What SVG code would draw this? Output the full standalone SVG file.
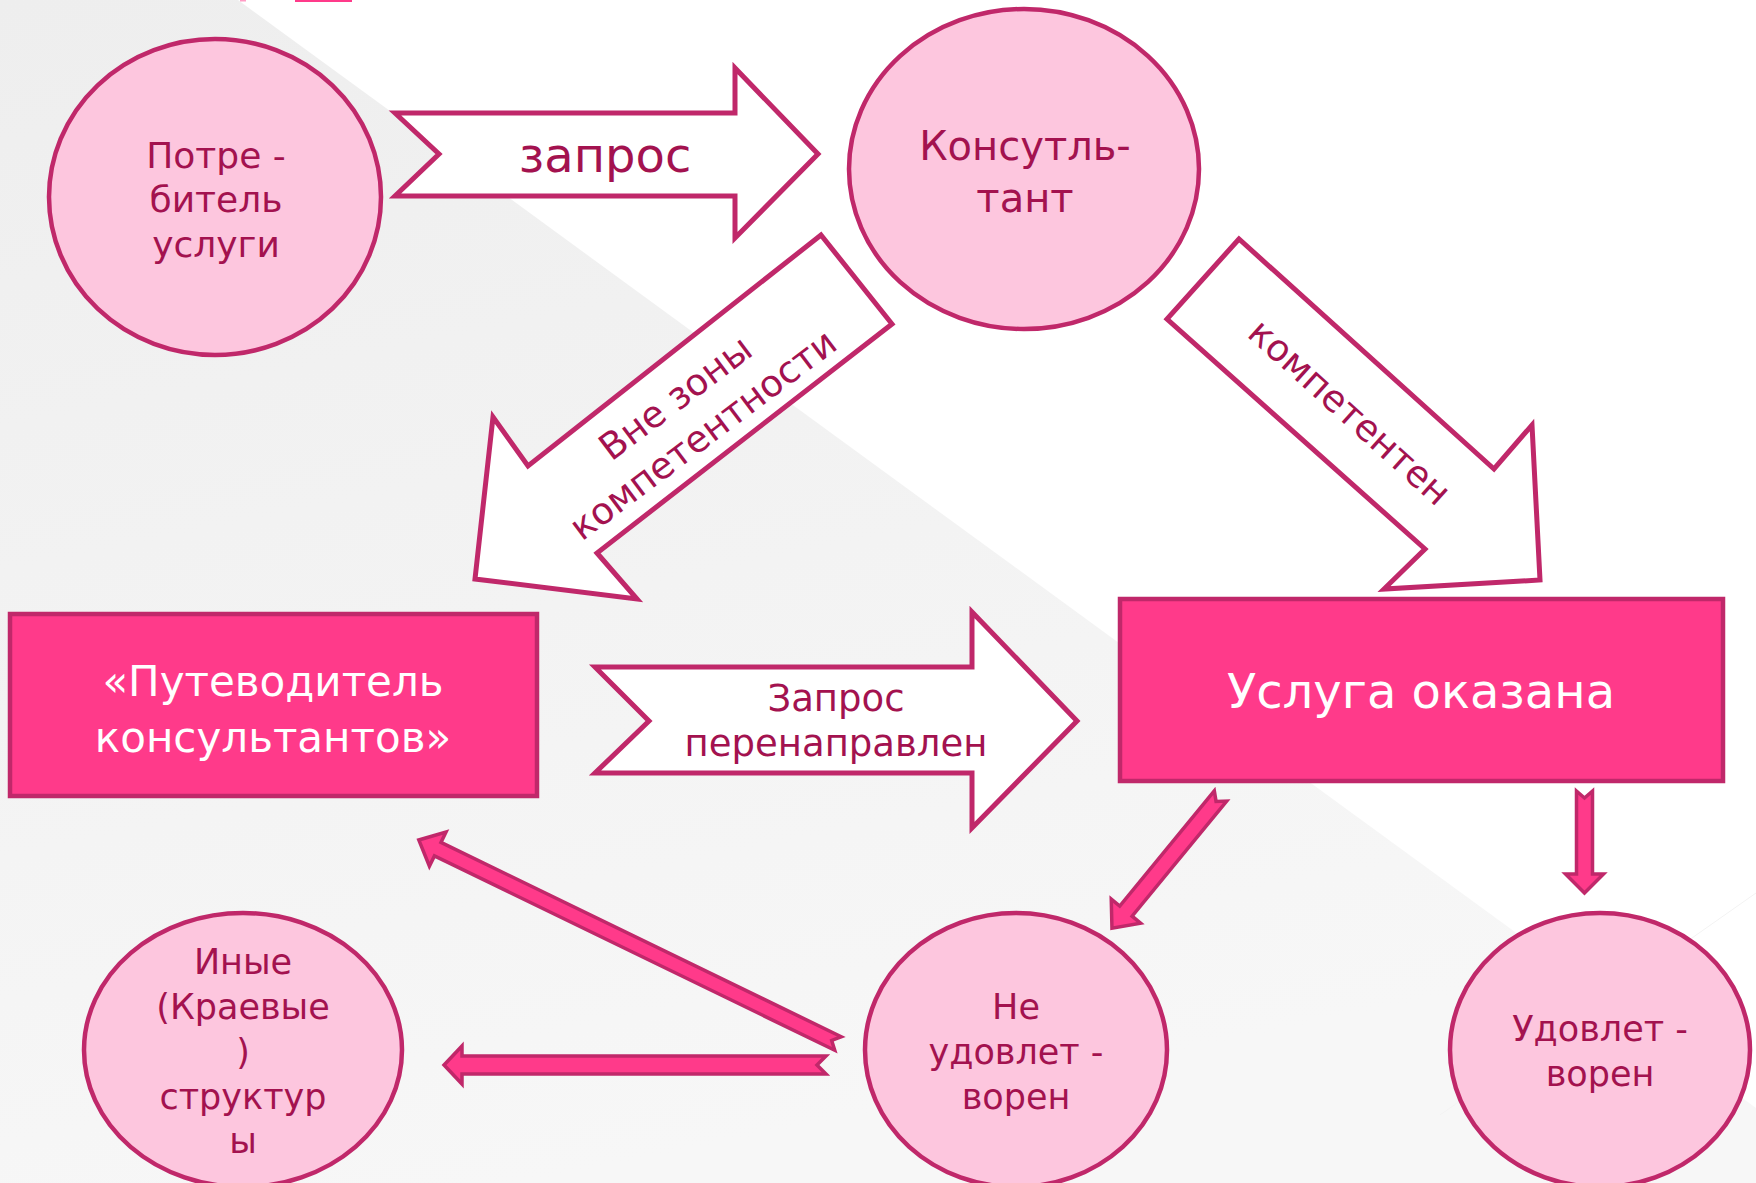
<svg xmlns="http://www.w3.org/2000/svg" width="1756" height="1183" viewBox="0 0 1756 1183">
<defs>
<linearGradient id="bg" x1="0" y1="0" x2="0.3" y2="1">
<stop offset="0" stop-color="#eeeeee"/>
<stop offset="1" stop-color="#f7f7f7"/>
</linearGradient>
<style>
.circ{fill:#fdc6de;stroke:#c0286a;stroke-width:4.5}
.box{fill:#ff3a8a;stroke:#c0286a;stroke-width:4.5}
.big{fill:#ffffff;stroke:#c0286a;stroke-width:5;stroke-linejoin:miter}
.thin{fill:#ff3a8a;stroke:#c0286a;stroke-width:3.5;stroke-linejoin:miter}
.t{font-family:"DejaVu Sans","Liberation Sans",sans-serif;fill:#a3124f;text-anchor:middle}
.w{font-family:"DejaVu Sans","Liberation Sans",sans-serif;fill:#ffffff;text-anchor:middle}
</style>
</defs>
<rect x="0" y="0" width="1756" height="1183" fill="#ffffff"/>
<polygon points="0,0 238,0 1756,1108 1756,1183 0,1183" fill="url(#bg)"/>
<line x1="1756" y1="893" x2="1440" y2="1115" stroke="#f3f3f3" stroke-width="1"/>
<rect x="295" y="0" width="57" height="2" fill="#ff3a8a"/>
<rect x="240" y="0" width="6" height="1.5" fill="#ff9cc4"/>

<g id="connectors">
<g id="arrow-zapros">
<polygon class="big" points="395,113 735,113 735,68 818,154 735,238 735,196 395,196 439,154"/>
<text class="t" x="605" y="172" font-size="48">запрос</text>
</g>
<g id="arrow-vne">
<polygon class="big" points="821,235 892,324 597,553 637,599 475,579 493,417 528,466"/>
<g transform="translate(689,416) rotate(-37)">
<text class="t" x="0" y="-10" font-size="37">Вне зоны</text>
<text class="t" x="0" y="36" font-size="37">компетентности</text>
</g>
</g>
<g id="arrow-komp">
<polygon class="big" points="1239,239 1167,319 1425,549 1384,589 1540,580 1532,425 1494,469"/>
<text class="t" x="0" y="10" font-size="37" transform="translate(1348,414) rotate(42)">компетентен</text>
</g>
<g id="arrow-redirect">
<polygon class="big" points="595,667 972,667 972,612 1077,721 972,828 972,773 595,773 649,721"/>
<text class="t" x="836" y="711" font-size="37">Запрос</text>
<text class="t" x="836" y="756" font-size="37">перенаправлен</text>
</g>
<polygon class="thin" transform="translate(1220.5,796) rotate(129.4)" points="0,-8 149,-8 149,-19 171,0 149,19 149,8 0,8 7,0"/>
<polygon class="thin" transform="translate(1584.5,791) rotate(90)" points="0,-8 83,-8 83,-19 102,0 83,19 83,8 0,8 7,0"/>
<polygon class="thin" transform="translate(838,1043.5) rotate(205.9)" points="0,-7.5 445,-7.5 445,-19 466,0 445,19 445,7.5 0,7.5 7,0"/>
<polygon class="thin" transform="translate(826,1065) rotate(180)" points="0,-9 364,-9 364,-19 382,0 364,19 364,9 0,9 9,0"/>
</g>

<g id="node-consumer">
<ellipse class="circ" cx="215" cy="197" rx="166" ry="158"/>
<text class="t" x="216" y="168" font-size="36">Потре -</text>
<text class="t" x="216" y="212" font-size="36">битель</text>
<text class="t" x="216" y="257" font-size="36">услуги</text>
</g>

<g id="node-consultant">
<ellipse class="circ" cx="1024" cy="169" rx="175" ry="160"/>
<text class="t" x="1025" y="160" font-size="40">Консутль-</text>
<text class="t" x="1025" y="212" font-size="40">тант</text>
</g>

<g id="node-guide">
<rect class="box" x="10" y="614" width="527" height="182"/>
<text class="w" x="273" y="696" font-size="42">«Путеводитель</text>
<text class="w" x="273" y="752" font-size="42">консультантов»</text>
</g>

<g id="node-service">
<rect class="box" x="1120" y="599" width="603" height="182"/>
<text class="w" x="1421" y="708" font-size="48">Услуга оказана</text>
</g>

<g id="node-other">
<ellipse class="circ" cx="243" cy="1050" rx="159" ry="137"/>
<text class="t" x="243" y="974" font-size="35">Иные</text>
<text class="t" x="243" y="1019" font-size="35">(Краевые</text>
<text class="t" x="243" y="1064" font-size="35">)</text>
<text class="t" x="243" y="1109" font-size="35">структур</text>
<text class="t" x="243" y="1153" font-size="35">ы</text>
</g>

<g id="node-unsatisfied">
<ellipse class="circ" cx="1016" cy="1050" rx="151" ry="137"/>
<text class="t" x="1016" y="1019" font-size="35">Не</text>
<text class="t" x="1016" y="1064" font-size="35">удовлет -</text>
<text class="t" x="1016" y="1109" font-size="35">ворен</text>
</g>

<g id="node-satisfied">
<ellipse class="circ" cx="1600" cy="1050" rx="150" ry="137"/>
<text class="t" x="1600" y="1041" font-size="35">Удовлет -</text>
<text class="t" x="1600" y="1086" font-size="35">ворен</text>
</g>
</svg>
